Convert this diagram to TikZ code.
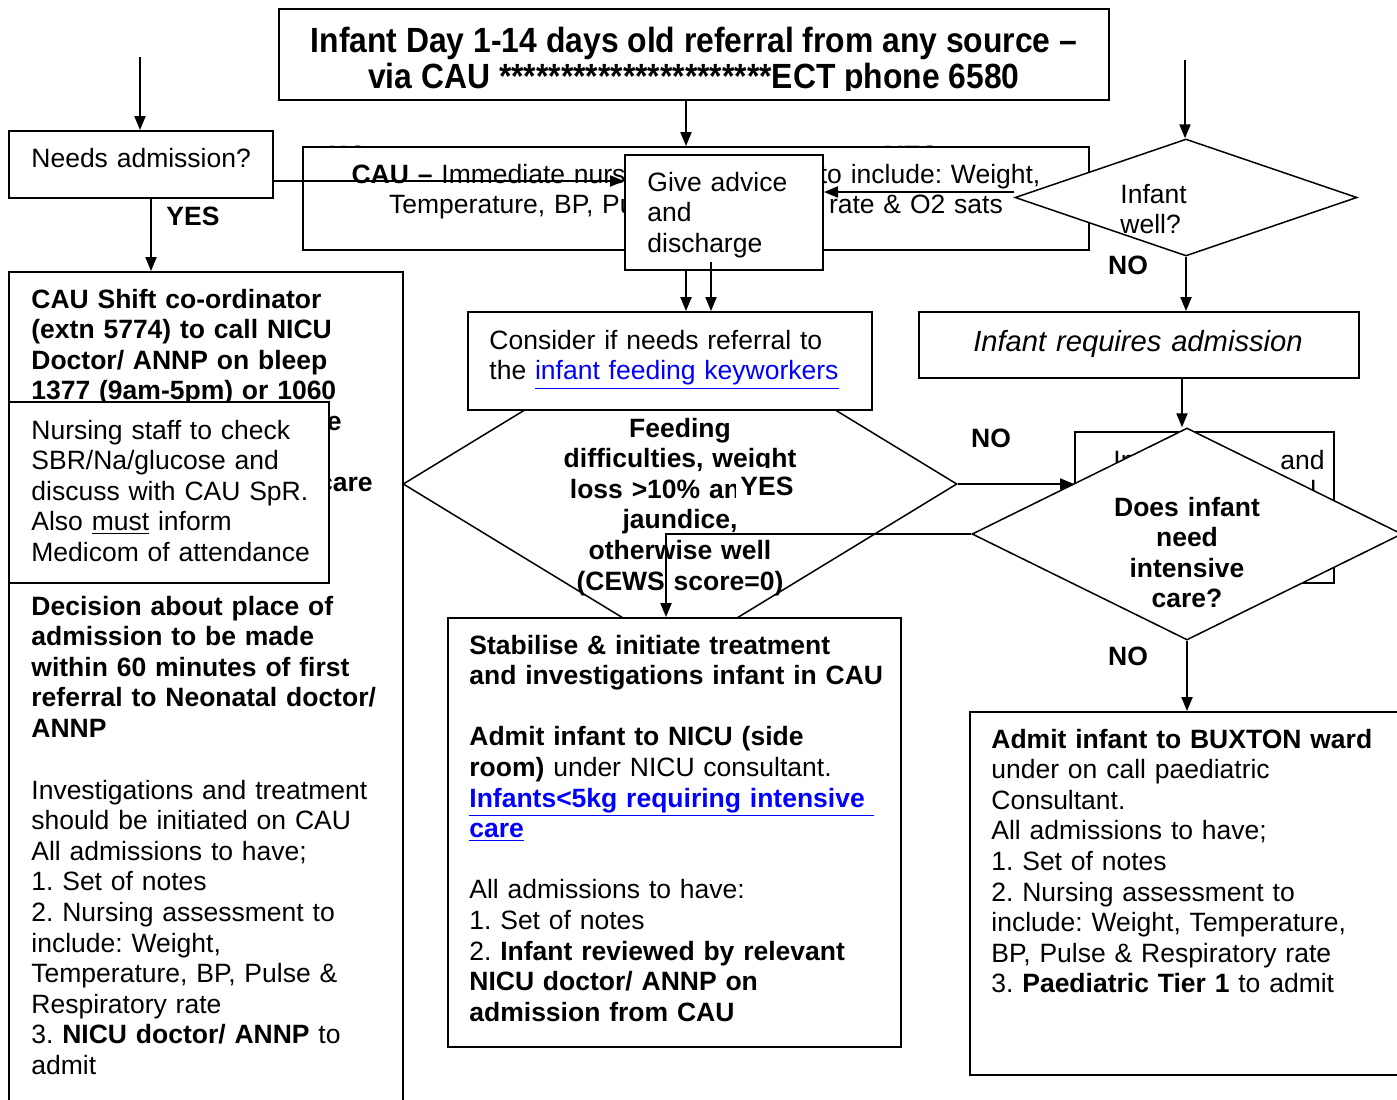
\documentclass[tikz,border=0pt]{standalone}
\usepackage{fontspec}
\setmainfont{Liberation Sans}
\newfontfamily\titlefont[FakeStretch=0.91]{Liberation Sans}
\usetikzlibrary{shapes.geometric,arrows.meta,fit}
\definecolor{linkblue}{RGB}{0,0,255}
\frenchspacing
\newcommand\bodyfs{\fontsize{13.25}{15.3}\selectfont\frenchspacing}
\newcommand\lnk[1]{\textcolor{linkblue}{\underline{#1}}}
\begin{document}
\begin{tikzpicture}[x=0.5pt,y=-0.5pt,
  box/.style={draw, line width=1pt, fill=white, inner sep=0pt},
  dia/.style={draw, line width=0.75pt, fill=white, diamond, inner sep=0pt},
  arr/.style={-{Triangle[length=7pt,width=5.6pt]}, line width=0.75pt},
  txt/.style={inner sep=0pt, font=\bodyfs, align=left, anchor=base west, text width=#1},
  txt/.default=215pt,
  ctxt/.style={inner sep=0pt, font=\bodyfs, align=center, anchor=base, text width=#1},
  ctxt/.default=215pt,
  lbl/.style={inner sep=0pt, font=\bodyfs\bfseries, anchor=base},
  ttl/.style={inner sep=0pt, anchor=base, font=\titlefont\fontsize{17.5}{18}\selectfont\bfseries},
]
\clip (0,0) rectangle (1397,1099);
\fill[white] (0,0) rectangle (1397,1099);

% labels hidden behind the CAU box
\node[lbl] (noTop) at (348,164) {NO};
\node[lbl] (yesTop) at (912,164) {YES};

% title
\node[box, fit={(279,9)(1109,100)}] (title) {};
\begin{scope}
  \clip (279,9) rectangle (1109,90);
  \node[ttl] (t1) at (694,52.5) {Infant Day 1-14 days old referral from any source –};
  \node[ttl] (t2) at (694,88.5) {via CAU **********************ECT phone 6580};
\end{scope}

% feeding diamond
\node[dia, minimum width=277pt, minimum height=169pt] (feed) at (680,484) {};
\node[ctxt=170pt, font=\bodyfs\bfseries] (feedT) at (680,437) {Feeding\\difficulties, weight\\loss >10\% and/or\\jaundice,\\otherwise well\\(CEWS score=0)};

% consider box
\node[box, fit={(468,312)(872,410)}] (consider) {};
\node[txt] (considerT) at (489,349) {Consider if needs referral to\\the \lnk{infant feeding keyworkers}};

% stabilise box
\node[box, fit={(448,618)(901,1047)}] (stab) {};
\node[txt=225pt] (stabT) at (469,654) {\textbf{Stabilise \& initiate treatment}\\
\textbf{and investigations infant in CAU}\\[15.3pt]
\textbf{Admit infant to NICU (side}\\
\textbf{room)} under NICU consultant.\\
\textbf{\lnk{Infants<5kg requiring intensive\ }}\\
\textbf{\lnk{care}}\\[15.3pt]
All admissions to have:\\
1. Set of notes\\
2. \textbf{Infant reviewed by relevant}\\
\textbf{NICU doctor/ ANNP on}\\
\textbf{admission from CAU}};

% left column
\node[box, fit={(9,272)(403,1108)}] (big) {};
\node[txt, font=\bodyfs\bfseries] (bigA) at (31,308) {CAU Shift co-ordinator\\(extn 5774) to call NICU\\Doctor/ ANNP on bleep\\1377 (9am-5pm) or 1060};
\node[lbl, anchor=base east] (bigE) at (342,430) {e};
\node[lbl, anchor=base east] (bigCare) at (373,491) {care};
\node[txt, font=\bodyfs\bfseries] (bigB) at (31,615) {Decision about place of\\admission to be made\\within 60 minutes of first\\referral to Neonatal doctor/\\ANNP};
\node[txt] (bigC) at (31,799) {Investigations and treatment\\should be initiated on CAU\\All admissions to have;\\1. Set of notes\\2. Nursing assessment to\\include: Weight,\\Temperature, BP, Pulse \&\\Respiratory rate\\3. \textbf{NICU doctor/ ANNP} to\\admit};
\node[box, fit={(9,402)(329,583)}] (nurse) {};
\node[txt] (nurseT) at (31,439) {Nursing staff to check\\SBR/Na/glucose and\\discuss with CAU SpR.\\Also \underline{must} inform\\Medicom of attendance};

% needs admission
\node[box, fit={(9,131)(273,198)}] (needs) {};
\node[txt] (needsT) at (31,167) {Needs admission?};
\coordinate (srcL) at (140,57);
\draw[arr] (srcL) -- (srcL |- needs.north);
\node[lbl] (yesL) at (193,225) {YES};
\draw[arr] (needs.south -| 151,0) -- (big.north -| 151,0);

% CAU box
\node[box, fit={(303,147)(1089,250)}] (cau) {};
\node[ctxt=400pt] (cauT) at (696,183) {\textbf{CAU –} Immediate nursing assessment to include: Weight,\\Temperature, BP, Pulse, Respiratory rate \& O2 sats};
\draw[arr] (title.south -| 686,0) -- (cau.north -| 686,0);
\draw[arr] (cau.south -| 686,0) -- (consider.north -| 686,0);

% infant well?
\node[dia, minimum width=171pt, minimum height=58.5pt] (wellq) at (1186,197.5) {};
\node[txt] (wellqT) at (1120,203) {Infant\\well?};
\coordinate (srcR) at (1185,60);
\draw[arr] (srcR) -- (srcR |- wellq.north);

% give advice
\node[box, fit={(625,155)(823,270)}] (advice) {};
\node[txt] (adviceT) at (647,191) {Give advice\\and\\discharge};
\draw[arr] (needs.east |- 0,181) -- (advice.west |- 0,181);
\draw[arr] (wellq.west |- 0,192) -- (advice.east |- 0,192);
\coordinate (adv2) at (711,262);
\draw[arr] (adv2) -- (adv2 |- consider.north);

% right column
\node[lbl] (noA) at (1128,274) {NO};
\node[box, fit={(919,312)(1359,378)}] (reqadm) {};
\node[ctxt=250pt, font=\fontsize{14.6}{17}\selectfont\itshape] (reqadmT) at (1138,351.5) {Infant requires admission};
\draw[arr] (wellq.south) -- (wellq.south |- reqadm.north);

\node[box, fit={(1075,432)(1334,583)}] (hid) {};
\node[txt=20pt] (hidA) at (1113,469) {In};
\node[lbl, font=\bodyfs, anchor=base east] (hidB) at (1325,469) {and};
\node[lbl, font=\bodyfs, anchor=base west] (hidC) at (1310,499) {l};
\node[dia, minimum width=215pt, minimum height=106pt] (icare) at (1187,534) {};
\node[ctxt=150pt, font=\bodyfs\bfseries] (icareT) at (1187,516) {Does infant\\need\\intensive\\care?};
\draw[arr] (reqadm.south -| 1182,0) -- (icare.north -| 1182,0);

\node[lbl] (noB) at (991,447) {NO};
\draw[arr] (feed.east) -- (feed.east -| hid.west);
\coordinate (ybend) at (666,534);
\draw[arr] (icare.west) -- (ybend) -- (ybend |- stab.north);
\node[fill=white, inner sep=0pt, fit={(736,468)(800,503)}] (yesBbg) {};
\node[lbl] (yesB) at (767,495) {YES};

\node[lbl] (noC) at (1128,665) {NO};
\node[box, fit={(970,712)(1410,1075)}] (bux) {};
\node[txt] (buxT) at (991,748) {\textbf{Admit infant to BUXTON ward}\\under on call paediatric\\Consultant.\\All admissions to have;\\1. Set of notes\\2. Nursing assessment to\\include: Weight, Temperature,\\BP, Pulse \& Respiratory rate\\3. \textbf{Paediatric Tier 1} to admit};
\draw[arr] (icare.south) -- (icare.south |- bux.north);
\end{tikzpicture}
\end{document}
